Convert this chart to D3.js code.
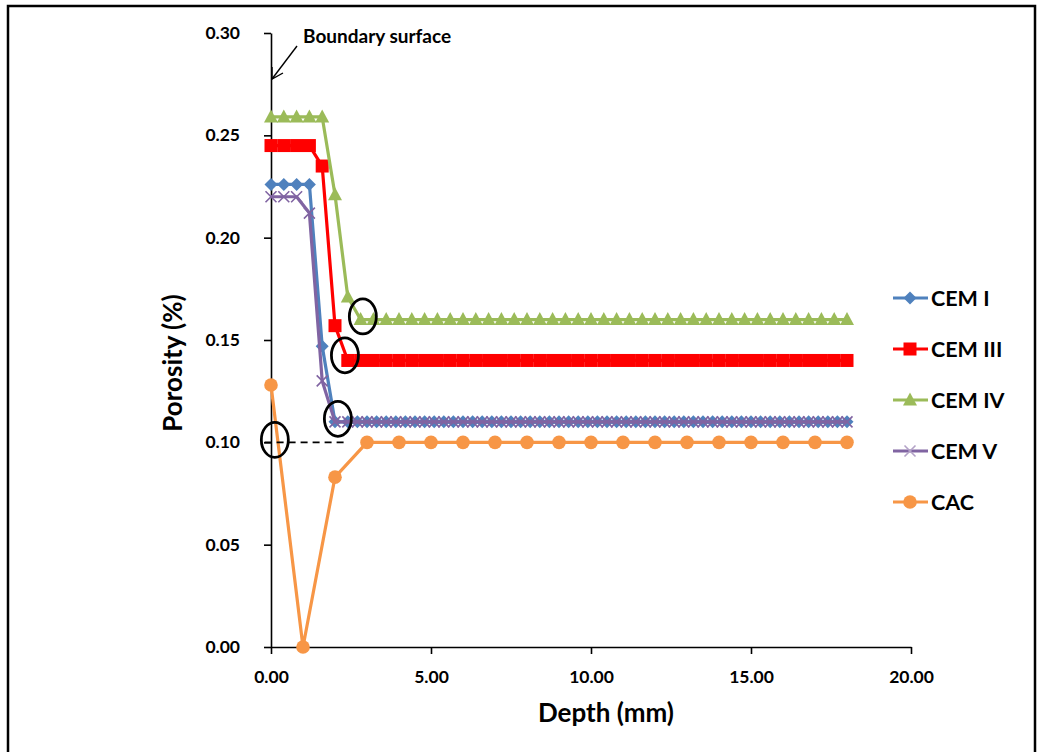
<!DOCTYPE html>
<html>
<head>
<script src="https://d3js.org/d3.v7.min.js"></script>
<style>
  body { margin: 0; background: #fff; }
  text { font-family: Lato, "Open Sans", sans-serif; font-weight: bold; fill: #000; }
</style>
</head>
<body>
<svg width="1039" height="752" id="chart"></svg>
<script>
// ---- data ----
const xTicks = [0, 5, 10, 15, 20];
const yTicks = [0, 0.05, 0.10, 0.15, 0.20, 0.25, 0.30];

const depthCemI = [0,0.4,0.8,1.2,1.6,2.0,2.4,2.7,3.0,3.3,3.6,3.9,4.2,4.5,4.8,5.1,5.4,5.7,6.0,6.3,6.6,6.9,7.2,7.5,7.8,
  8.1,8.4,8.7,9.0,9.3,9.6,9.9,10.2,10.5,10.8,11.1,11.4,11.7,12.0,12.3,12.6,12.9,13.2,13.5,13.8,14.1,14.4,14.7,
  15.0,15.3,15.6,15.9,16.2,16.5,16.8,17.1,17.4,17.7,18.0];
const cemI = [0.226,0.226,0.226,0.226,0.147,0.11,
  0.11,0.11,0.11,0.11,0.11,0.11,0.11,0.11,0.11,0.11,
  0.11,0.11,0.11,0.11,0.11,0.11,0.11,0.11,0.11,0.11,
  0.11,0.11,0.11,0.11,0.11,0.11,0.11,0.11,0.11,0.11,
  0.11,0.11,0.11,0.11,0.11,0.11,0.11,0.11,0.11,0.11,
  0.11,0.11,0.11,0.11,0.11,0.11,0.11,0.11,0.11,0.11,
  0.11,0.11,0.11];
const cemV = [0.22,0.22,0.22,0.212,0.13,0.11,
  0.11,0.11,0.11,0.11,0.11,0.11,0.11,0.11,0.11,0.11,
  0.11,0.11,0.11,0.11,0.11,0.11,0.11,0.11,0.11,0.11,
  0.11,0.11,0.11,0.11,0.11,0.11,0.11,0.11,0.11,0.11,
  0.11,0.11,0.11,0.11,0.11,0.11,0.11,0.11,0.11,0.11,
  0.11,0.11,0.11,0.11,0.11,0.11,0.11,0.11,0.11,0.11,
  0.11,0.11,0.11];

const depthCem = [0,0.4,0.8,1.2,1.6,2.0,2.4,2.8,3.2,3.6,4.0,4.4,4.8,5.2,5.6,6.0,6.4,6.8,7.2,7.6,8.0,8.4,8.8,9.2,
  9.6,10.0,10.4,10.8,11.2,11.6,12.0,12.4,12.8,13.2,13.6,14.0,14.4,14.8,15.2,15.6,16.0,16.4,16.8,17.2,17.6,18.0];
const cemIII = [0.245,0.245,0.245,0.245,0.235,0.157,
  0.14,0.14,0.14,0.14,0.14,0.14,0.14,0.14,0.14,0.14,
  0.14,0.14,0.14,0.14,0.14,0.14,0.14,0.14,0.14,0.14,
  0.14,0.14,0.14,0.14,0.14,0.14,0.14,0.14,0.14,0.14,
  0.14,0.14,0.14,0.14,0.14,0.14,0.14,0.14,0.14,0.14];
const cemIV = [0.259,0.259,0.259,0.259,0.259,0.221,0.171,
  0.16,0.16,0.16,0.16,0.16,0.16,0.16,0.16,0.16,0.16,
  0.16,0.16,0.16,0.16,0.16,0.16,0.16,0.16,0.16,0.16,
  0.16,0.16,0.16,0.16,0.16,0.16,0.16,0.16,0.16,0.16,
  0.16,0.16,0.16,0.16,0.16,0.16,0.16,0.16,0.16];

const depthCac = [0,1,2,3,4,5,6,7,8,9,10,11,12,13,14,15,16,17,18];
const cac = [0.128,0,0.083,0.10,0.10,0.10,0.10,0.10,0.10,0.10,0.10,0.10,0.10,0.10,0.10,0.10,0.10,0.10,0.10];

const seriesNames = ["CEM I", "CEM III", "CEM IV", "CEM V", "CAC"];
const seriesColors = ["#4F81BD", "#FF0000", "#9BBB59", "#8064A2", "#F79646"];

// circled points (depth, porosity) and the dashed reference level
const circleMarks = [[2.87, 0.1615], [2.31, 0.1425], [2.09, 0.1115], [0.12, 0.1012]];
const dashLevel = [[-0.2, 0.10], [2.4, 0.10]];

// ---- drawing ----
const svg = d3.select("#chart");
const x = d3.scaleLinear().domain([0, 20]).range([271, 911]);
const y = d3.scaleLinear().domain([0, 0.30]).range([647, 33]);

// frame
svg.append("rect").attr("x", 8).attr("y", 6).attr("width", 1027).attr("height", 770)
  .attr("fill", "none").attr("stroke", "#000").attr("stroke-width", 2.5);

const xAxis = svg.append("g").attr("transform", "translate(0,647)")
  .call(d3.axisBottom(x).tickValues(xTicks).tickSize(7).tickSizeOuter(0).tickFormat(d3.format(".2f")));
const yAxis = svg.append("g").attr("transform", "translate(271,0)")
  .call(d3.axisLeft(y).tickValues(yTicks).tickSize(7).tickSizeOuter(0).tickFormat(d3.format(".2f")));
[xAxis, yAxis].forEach(a => {
  a.selectAll("path, line").attr("stroke", "#000").attr("stroke-width", 1.6);
  a.selectAll("text").style("font-size", "17.5px").attr("fill", "#000");
});
xAxis.selectAll("text").attr("dy", "1.5em");
yAxis.selectAll("text").attr("x", -31);

svg.append("text").attr("x", 606).attr("y", 722).attr("text-anchor", "middle")
  .style("font-size", "26px").text("Depth (mm)");
svg.append("text").attr("transform", "translate(182,363) rotate(-90)").attr("text-anchor", "middle")
  .style("font-size", "26px").text("Porosity (%)");

const markers = {
  "CEM I": g => g.append("path").attr("d", "M0,-6.5L6.5,0L0,6.5L-6.5,0Z"),
  "CEM III": g => g.append("rect").attr("x", -6.5).attr("y", -6.5).attr("width", 13).attr("height", 13),
  "CEM IV": g => g.append("path").attr("d", "M0,-7.5L7,5.5L-7,5.5Z"),
  "CEM V": g => g.append("path").attr("d", "M-5.5,-5.5L5.5,5.5M5.5,-5.5L-5.5,5.5").attr("fill", "none").attr("stroke-width", 1.6),
  "CAC": g => g.append("circle").attr("r", 6.8)
};

const seriesData = [
  depthCemI.map((d, i) => [d, cemI[i]]),
  depthCem.map((d, i) => [d, cemIII[i]]),
  depthCem.map((d, i) => [d, cemIV[i]]),
  depthCemI.map((d, i) => [d, cemV[i]]),
  depthCac.map((d, i) => [d, cac[i]])
];

const line = d3.line().x(d => x(d[0])).y(d => y(d[1]));

seriesNames.forEach((name, i) => {
  const col = seriesColors[i];
  const g = svg.append("g");
  g.append("path").datum(seriesData[i]).attr("d", line)
    .attr("fill", "none").attr("stroke", col).attr("stroke-width", 3.2).attr("stroke-linejoin", "round");
  g.selectAll("g.pt").data(seriesData[i]).join("g").attr("class", "pt")
    .attr("transform", d => `translate(${x(d[0])},${y(d[1])})`)
    .each(function() {
      const m = markers[name](d3.select(this));
      if (name === "CEM V") m.attr("stroke", col);
      else m.attr("fill", col);
    });
});

// dashed level line
svg.append("path").datum(dashLevel).attr("d", line)
  .attr("fill", "none").attr("stroke", "#000").attr("stroke-width", 1.6).attr("stroke-dasharray", "7,5");

// ellipses around transition points
svg.selectAll("ellipse.mark").data(circleMarks).join("ellipse").attr("class", "mark")
  .attr("cx", d => x(d[0])).attr("cy", d => y(d[1])).attr("rx", 13.5).attr("ry", 17.5)
  .attr("fill", "none").attr("stroke", "#000").attr("stroke-width", 2.8);

// boundary surface annotation
svg.append("text").attr("x", 303).attr("y", 43).style("font-size", "19px").text("Boundary surface");
svg.append("line").attr("x1", 297).attr("y1", 46).attr("x2", 272).attr("y2", 79)
  .attr("stroke", "#000").attr("stroke-width", 1.4);
svg.append("path").attr("d", "M272,67L272,79L283,73")
  .attr("fill", "none").attr("stroke", "#000").attr("stroke-width", 1.4);

// legend
const legend = svg.append("g");
seriesNames.forEach((name, i) => {
  const ly = 298 + i * 51;
  const col = seriesColors[i];
  legend.append("line").attr("x1", 893).attr("x2", 928).attr("y1", ly).attr("y2", ly)
    .attr("stroke", col).attr("stroke-width", 3);
  const mg = legend.append("g").attr("transform", `translate(910,${ly})`);
  const m = markers[name](mg);
  if (name === "CEM V") m.attr("stroke", "#B3A2C7");
  else m.attr("fill", col);
  legend.append("text").attr("x", 931).attr("y", ly + 8).style("font-size", "21.5px").text(name);
});
</script>
</body>
</html>
